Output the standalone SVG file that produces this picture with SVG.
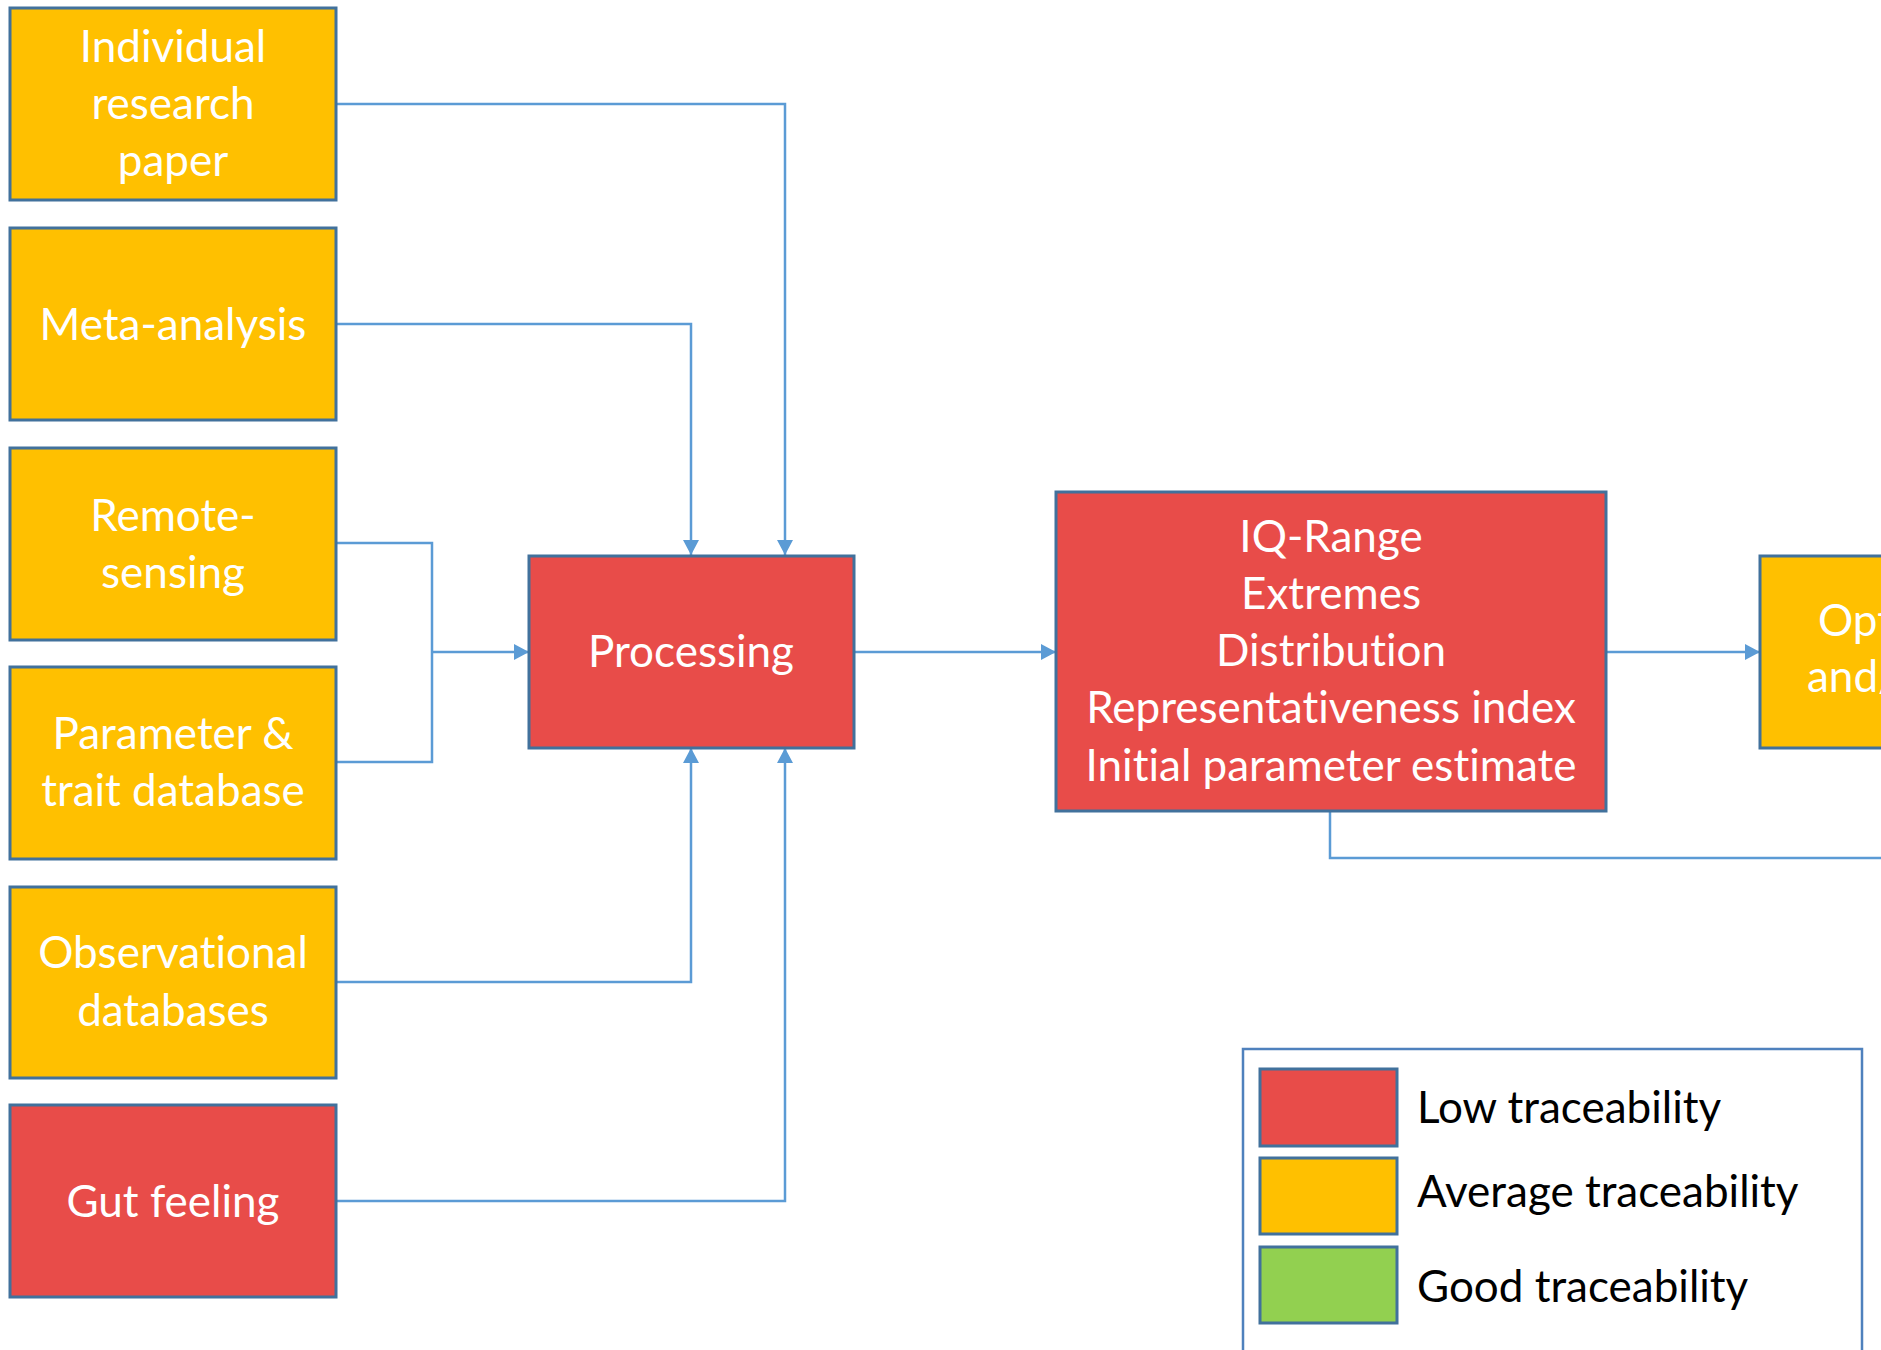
<svg xmlns="http://www.w3.org/2000/svg" width="1881" height="1350" viewBox="0 0 1881 1350">
<style>
.box{stroke:#41719C;stroke-width:3}
.org{fill:#FFC000}
.red{fill:#E84C49}
.grn{fill:#92D050}
.t{font-family:Lato,"Open Sans","Liberation Sans",sans-serif;font-size:44px;fill:#FFFFFF;text-anchor:middle;font-variant-ligatures:none}
.lg{font-family:Lato,"Open Sans","Liberation Sans",sans-serif;font-size:44px;fill:#000000;font-variant-ligatures:none}
.c{fill:none;stroke:#5B9BD5;stroke-width:2.5}
</style>
<defs>
<marker id="ah" markerUnits="userSpaceOnUse" markerWidth="17" markerHeight="17" refX="15" refY="8" orient="auto">
<path d="M0,0 L15,8 L0,16 z" fill="#5B9BD5"/>
</marker>
</defs>
<rect width="1881" height="1350" fill="#FFFFFF"/>
<g id="connectors">
<path class="c" d="M336,104 H785 V555" marker-end="url(#ah)"/>
<path class="c" d="M336,324 H691 V555" marker-end="url(#ah)"/>
<path class="c" d="M336,543 H432 V762 H336"/>
<path class="c" d="M432,652 H529" marker-end="url(#ah)"/>
<path class="c" d="M336,982 H691 V748" marker-end="url(#ah)"/>
<path class="c" d="M336,1201 H785 V748" marker-end="url(#ah)"/>
<path class="c" d="M854,652 H1056" marker-end="url(#ah)"/>
<path class="c" d="M1606,652 H1760" marker-end="url(#ah)"/>
<path class="c" d="M1330,811 V858 H1881"/>
</g>
<g id="n-individual">
<rect class="box org" x="10" y="8" width="326" height="192"/>
<text class="t" x="173" y="62">Individual</text>
<text class="t" x="173" y="119">research</text>
<text class="t" x="173" y="176">paper</text>
</g>
<g id="n-meta">
<rect class="box org" x="10" y="228" width="326" height="192"/>
<text class="t" x="173" y="340">Meta-analysis</text>
</g>
<g id="n-remote">
<rect class="box org" x="10" y="448" width="326" height="192"/>
<text class="t" x="173" y="531">Remote-</text>
<text class="t" x="173" y="588">sensing</text>
</g>
<g id="n-param">
<rect class="box org" x="10" y="667" width="326" height="192"/>
<text class="t" x="173" y="749">Parameter &amp;</text>
<text class="t" x="173" y="806">trait database</text>
</g>
<g id="n-obs">
<rect class="box org" x="10" y="887" width="326" height="191"/>
<text class="t" x="173" y="968">Observational</text>
<text class="t" x="173" y="1026">databases</text>
</g>
<g id="n-gut">
<rect class="box red" x="10" y="1105" width="326" height="192"/>
<text class="t" x="173" y="1217">Gut feeling</text>
</g>
<g id="n-processing">
<rect class="box red" x="529" y="556" width="325" height="192"/>
<text class="t" x="691" y="667">Processing</text>
</g>
<g id="n-stats">
<rect class="box red" x="1056" y="492" width="550" height="319"/>
<text class="t" x="1331" y="552">IQ-Range</text>
<text class="t" x="1331" y="609">Extremes</text>
<text class="t" x="1331" y="666">Distribution</text>
<text class="t" x="1331" y="723">Representativeness index</text>
<text class="t" x="1331" y="781">Initial parameter estimate</text>
</g>
<g id="n-opt">
<rect class="box org" x="1760" y="556" width="140" height="192"/>
<text class="t" x="1818" y="636" style="text-anchor:start">Opt</text>
<text class="t" x="1807" y="692" style="text-anchor:start">and/</text>
</g>
<g id="legend">
<rect x="1243" y="1049" width="619" height="320" fill="#FFFFFF" stroke="#4F81BD" stroke-width="2.5"/>
<rect class="box red" x="1260" y="1069" width="137" height="77"/>
<rect class="box org" x="1260" y="1158" width="137" height="76"/>
<rect class="box grn" x="1260" y="1247" width="137" height="76"/>
<text class="lg" x="1417" y="1123">Low traceability</text>
<text class="lg" x="1417" y="1207">Average traceability</text>
<text class="lg" x="1417" y="1302">Good traceability</text>
</g>
</svg>
